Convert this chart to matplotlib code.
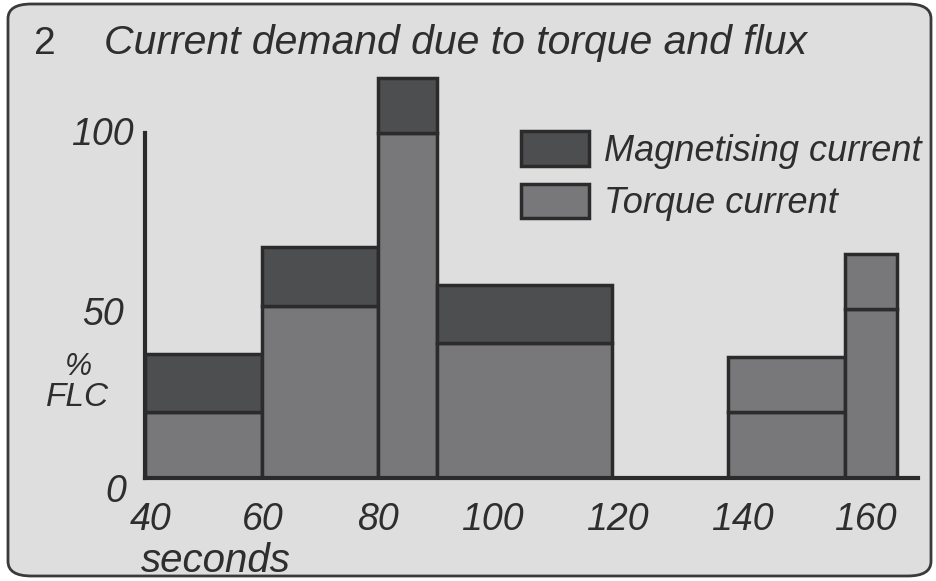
import matplotlib
matplotlib.use("Agg")
import matplotlib.pyplot as plt
from matplotlib.patches import FancyBboxPatch, Patch
from matplotlib.transforms import ScaledTranslation

# Time segments (seconds) and current demand (% of full-load current)
seg_start = [40, 60, 80, 90, 140, 160]
seg_end = [60, 80, 90, 120, 160, 169]
torque_current = [19, 50, 100, 39, 19, 49]
magnetising_current = [17, 17, 16, 17, 16, 16]
upper_is_magnetising = [True, True, True, True, False, False]

x_ticks = [40, 60, 80, 100, 120, 140, 160]
x_tick_labels = ["40", "60", "80", "100", "120", "140", "160"]
y_ticks = [0, 50, 100]
y_tick_labels = ["0", "50", "100"]

BG = "#dedede"
DARK = "#4d4e50"
MID = "#78787a"
EDGE = "#2b2b2b"
TEXT = "#2e2e2e"

W, H = 936, 581
fig = plt.figure(figsize=(W / 100, H / 100), dpi=100)
fig.patch.set_facecolor("white")

# Rounded panel behind the chart
panel = FancyBboxPatch((8 / W, 5 / H), (W - 13) / W, (H - 9) / H,
                       boxstyle="round,pad=0,rounding_size=0.025",
                       transform=fig.transFigure, facecolor=BG,
                       edgecolor="#3a3a3a", linewidth=2.0, zorder=-5)
fig.patches.append(panel)

font = "Liberation Sans"

fig.text(34 / W, 1 - 54 / H, "2", fontsize=28, family=font, color=TEXT,
         va="baseline", ha="left")
fig.text(104 / W, 1 - 54 / H, "Current demand due to torque and flux",
         fontsize=29.5, family=font, style="italic", color=TEXT,
         va="baseline", ha="left")

# Axes placed so that 40 s sits at x=145 px and the baseline at y=478 px
x0_px, x1_px = 145, 918
y0_px, y1_px = 478, 70
ax = fig.add_axes([x0_px / W, 1 - y0_px / H, (x1_px - x0_px) / W,
                   (y0_px - y1_px) / H])
ax.set_facecolor("none")
ax.set_xlim(40, 40 + (x1_px - x0_px) / 5.8333)
ax.set_ylim(0, (y0_px - y1_px) / 3.45)

for s, e, t, m, top_mag in zip(seg_start, seg_end, torque_current,
                               magnetising_current, upper_is_magnetising):
    ax.bar(s, t, width=e - s, align="edge", color=MID, edgecolor=EDGE,
           linewidth=2.5, zorder=2)
    ax.bar(s, m, width=e - s, bottom=t, align="edge",
           color=DARK if top_mag else MID, edgecolor=EDGE,
           linewidth=2.5, zorder=2)

for side in ("top", "right"):
    ax.spines[side].set_visible(False)
ax.spines["left"].set_bounds(0, 100)
for side in ("left", "bottom"):
    ax.spines[side].set_linewidth(3)
    ax.spines[side].set_color(EDGE)
    ax.spines[side].set_zorder(3)

ax.set_xticks(x_ticks)
ax.set_xticklabels(x_tick_labels)
ax.set_yticks(y_ticks)
ax.set_yticklabels(y_tick_labels)
ax.tick_params(axis="both", length=0, labelsize=27, colors=TEXT)
ax.tick_params(axis="x", pad=17)
ax.tick_params(axis="y", pad=8)
for lbl in ax.get_xticklabels() + ax.get_yticklabels():
    lbl.set_family(font)
    lbl.set_style("italic")

# Small hand-drawn offsets of the tick labels
x_shift = [6, 1, 0, -3, 6, 14, 20]
for lbl, dx in zip(ax.get_xticklabels(), x_shift):
    lbl.set_transform(lbl.get_transform() +
                      ScaledTranslation(dx / 100, 0, fig.dpi_scale_trans))
y_shift = [(-8, -10), (-10, -5), (0, 2)]
for lbl, (dx, dy) in zip(ax.get_yticklabels(), y_shift):
    lbl.set_transform(lbl.get_transform() +
                      ScaledTranslation(dx / 100, dy / 100, fig.dpi_scale_trans))

fig.text(78 / W, 1 - 367 / H, "%", fontsize=22, family=font, style="italic",
         color=TEXT, ha="center", va="center")
fig.text(78 / W, 1 - 398 / H, "FLC", fontsize=24, family=font,
         style="italic", color=TEXT, ha="center", va="center")
fig.text(141 / W, 1 - 561 / H, "seconds", fontsize=29, family=font,
         style="italic", color=TEXT, ha="left", va="center")

handles = [Patch(facecolor=DARK, edgecolor=EDGE, linewidth=2.5,
                 label="Magnetising current"),
           Patch(facecolor=MID, edgecolor=EDGE, linewidth=2.5,
                 label="Torque current")]
leg = fig.legend(handles=handles, loc="upper left",
                 bbox_to_anchor=(521 / W, 1 - 131 / H), frameon=False,
                 prop={"family": font, "style": "italic", "size": 26},
                 handlelength=1.88, handleheight=1.1, handletextpad=0.42,
                 labelspacing=0.42, borderaxespad=0, borderpad=0)
for t in leg.get_texts():
    t.set_color(TEXT)

fig.savefig("out.png", dpi=100, facecolor=fig.get_facecolor())
